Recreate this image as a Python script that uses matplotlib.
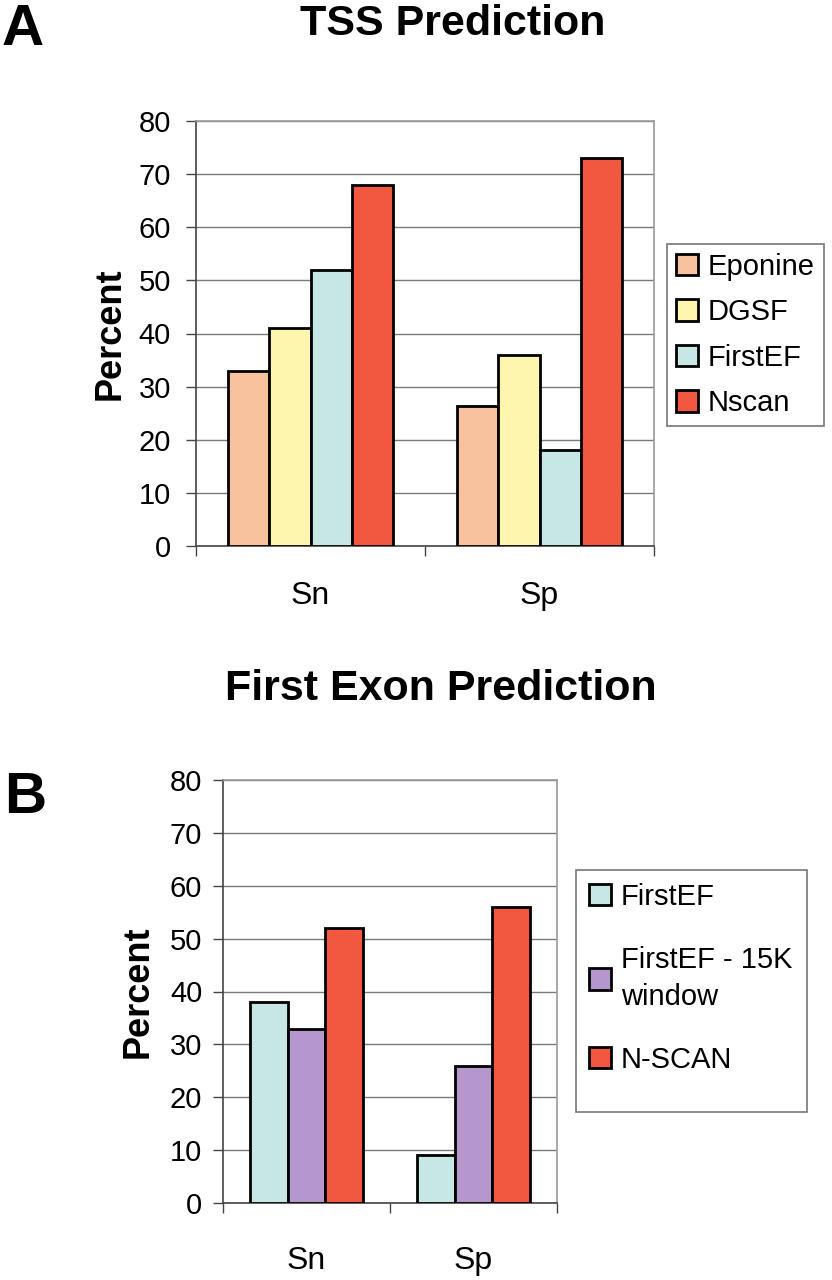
import numpy as np
import matplotlib
matplotlib.use('Agg')
import matplotlib.pyplot as plt
from matplotlib.patches import Rectangle

plt.rcParams['font.family'] = ['Liberation Sans', 'DejaVu Sans']

CATEGORIES = ['Sn', 'Sp']

# panel A: TSS prediction
TSS_METHODS = ['Eponine', 'DGSF', 'FirstEF', 'Nscan']
TSS_VALUES = [
  [33, 26.3],   # Eponine
  [41, 36],     # DGSF
  [52, 18],     # FirstEF
  [68, 73],     # Nscan
]
TSS_COLORS = ['#F9C29E', '#FEF6AE', '#C6E7E4', '#F2583F']

# panel B: first exon prediction
EXON_METHODS = ['FirstEF', 'FirstEF - 15K\nwindow', 'N-SCAN']
EXON_VALUES = [
  [38, 9],      # FirstEF
  [33, 26],     # FirstEF - 15K window
  [52, 56],     # N-SCAN
]
EXON_COLORS = ['#C6E7E4', '#B596CD', '#F2583F']

YTICKS = [0, 10, 20, 30, 40, 50, 60, 70, 80]

W, H = 832, 1280


def px_axes(fig, left, top, right, bottom):
  # axes placed by pixel box of the reference
  return fig.add_axes([left / W, 1 - bottom / H, (right - left) / W, (bottom - top) / H])


def grouped_bars(ax, values, colors, labels, bar_w, label_pad, tick_pad):
  x = np.arange(len(CATEGORIES))
  n = len(values)
  for i, (vals, col, lab) in enumerate(zip(values, colors, labels)):
    offs = (i - (n - 1) / 2) * bar_w
    ax.bar(x + offs, vals, bar_w, color=col, edgecolor='black', linewidth=2,
           label=lab, zorder=3)

  ax.set_xlim(-0.5, len(CATEGORIES) - 0.5)
  ax.set_ylim(0, 80)
  ax.set_yticks(YTICKS)
  ax.set_xticks(x)
  ax.set_xticklabels(CATEGORIES, fontsize=23)
  ax.set_xticks(np.arange(-0.5, len(CATEGORIES), 1.0), minor=True)
  ax.tick_params(axis='x', which='major', length=0, pad=label_pad)
  ax.tick_params(axis='x', which='minor', length=7, width=1, color='#444444',
                 direction='out')
  ax.tick_params(axis='y', length=7, width=1, color='#444444', direction='out',
                 labelsize=21, pad=tick_pad)

  ax.yaxis.grid(True, color='#7a7a7a', linewidth=1)
  ax.set_axisbelow(True)
  for side in ['top', 'right']:
    ax.spines[side].set_color('#9a9a9a')
    ax.spines[side].set_linewidth(1.2)
  for side in ['left', 'bottom']:
    ax.spines[side].set_color('#444444')
    ax.spines[side].set_linewidth(1.2)


fig = plt.figure(figsize=(W / 100, H / 100), dpi=100)

# ---- panel A ----
axA = px_axes(fig, 196, 121, 654, 546)
grouped_bars(axA, TSS_VALUES, TSS_COLORS, TSS_METHODS, 0.181, 25, 11)
axA.set_ylabel('Percent', fontsize=26, fontweight='bold', labelpad=8)
legA = axA.legend(loc='upper left', bbox_to_anchor=(667 / W, 1 - 244 / H),
                  bbox_transform=fig.transFigure, borderaxespad=0,
                  fontsize=21, handlelength=0.75, handleheight=0.75,
                  handletextpad=0.35, labelspacing=0.6, borderpad=0.3,
                  fancybox=False, framealpha=1, edgecolor='#777777')
legA.get_frame().set_linewidth(1.2)

fig.text(453 / W, 1 - 35 / H, 'TSS Prediction', ha='center', va='baseline',
         fontsize=31, fontweight='bold')
fig.text(2 / W, 1 - 45 / H, 'A', ha='left', va='baseline',
         fontsize=42, fontweight='bold')

# ---- panel B ----
axB = px_axes(fig, 223, 780, 557, 1203)
grouped_bars(axB, EXON_VALUES, EXON_COLORS, EXON_METHODS, 0.226, 31, 8)
axB.set_ylabel('Percent', fontsize=26, fontweight='bold', labelpad=10)
legB = axB.legend(loc='upper left', bbox_to_anchor=(580 / W, 1 - 874 / H),
                  bbox_transform=fig.transFigure, borderaxespad=0,
                  fontsize=21, handlelength=0.75, handleheight=0.75,
                  handletextpad=0.35, labelspacing=1.2, borderpad=0.3,
                  frameon=False)
for t in legB.get_texts():
  t.set_linespacing(1.4)
fig.patches.append(Rectangle((576 / W, 1 - 1112 / H), (807 - 576) / W, (1112 - 870) / H,
                             transform=fig.transFigure, fill=False,
                             edgecolor='#777777', linewidth=1.2))

fig.text(441 / W, 1 - 700 / H, 'First Exon Prediction', ha='center', va='baseline',
         fontsize=31, fontweight='bold')
fig.text(4 / W, 1 - 813 / H, 'B', ha='left', va='baseline',
         fontsize=42, fontweight='bold')

fig.savefig('out.png', dpi=100, facecolor='white')
